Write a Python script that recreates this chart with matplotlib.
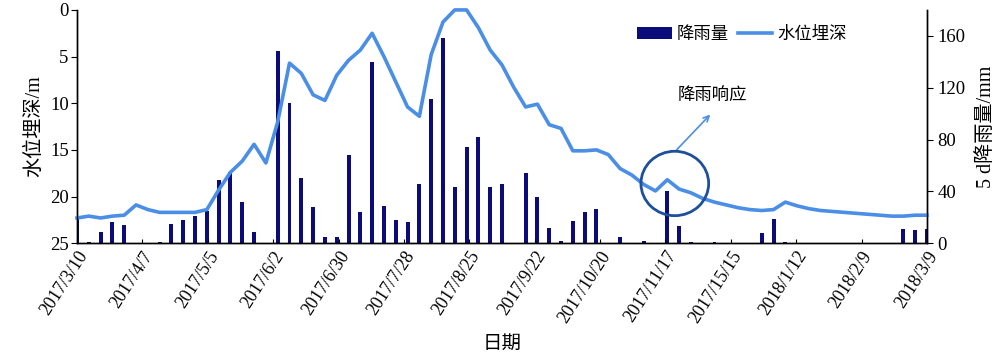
import numpy as np
import pandas as pd
import matplotlib
matplotlib.use('Agg')
import matplotlib.pyplot as plt
import matplotlib.dates as mdates
from matplotlib.patches import Ellipse

plt.rcParams['font.family'] = ['Liberation Serif', 'Noto Sans CJK SC']
plt.rcParams['axes.unicode_minus'] = False

# données : 73 périodes de 5 jours, du 2017/3/10 au 2018/3/9
start_date = '2017-03-10'
end_date = '2018-03-09'
n_periods = 73

rain_5d = [20, 1, 9, 16, 14, 0, 0, 1, 15, 18,
           21, 25, 49, 55, 32, 9, 0, 148, 108, 50,
           28, 4.6, 4.6, 68, 24, 140, 29, 18, 16, 46,
           111, 158, 43, 74, 82, 43, 46, 0.5, 54, 36,
           12, 2, 17, 24, 26, 0.5, 4.6, 0, 2, 0,
           40, 13, 1, 0, 1, 0, 0, 0, 7.5, 19,
           1, 0, 0, 0, 0, 0, 0, 0, 0, 0,
           11, 10, 11]

depth = [22.3, 22.1, 22.3, 22.1, 22.0, 20.9, 21.4, 21.7, 21.7, 21.7,
         21.7, 21.4, 19.3, 17.4, 16.2, 14.4, 16.4, 12.0, 5.7, 6.8,
         9.1, 9.7, 7.0, 5.4, 4.3, 2.5, 5.0, 7.7, 10.4, 11.4,
         4.8, 1.3, 0.0, 0.0, 1.9, 4.3, 5.9, 8.3, 10.4, 10.1,
         12.3, 12.7, 15.1, 15.1, 15.0, 15.5, 17.0, 17.7, 18.7, 19.4,
         18.2, 19.2, 19.6, 20.2, 20.6, 20.9, 21.2, 21.4, 21.5, 21.4,
         20.6, 21.0, 21.3, 21.5, 21.6, 21.7, 21.8, 21.9, 22.0, 22.1,
         22.1, 22.0, 22.0]

tick_dates = ['2017-03-10', '2017-04-07', '2017-05-05', '2017-06-02', '2017-06-30',
              '2017-07-28', '2017-08-25', '2017-09-22', '2017-10-20', '2017-11-17',
              '2017-12-15', '2018-01-12', '2018-02-09', '2018-03-09']
tick_labels = ['2017/3/10', '2017/4/7', '2017/5/5', '2017/6/2', '2017/6/30',
               '2017/7/28', '2017/8/25', '2017/9/22', '2017/10/20', '2017/11/17',
               '2017/15/15', '2018/1/12', '2018/2/9', '2018/3/9']

t0 = pd.Timestamp(start_date)
t1 = pd.Timestamp(end_date)
dates = pd.to_datetime(np.linspace(t0.value, t1.value, n_periods))
x = mdates.date2num(dates)

fig = plt.figure(figsize=(10, 3.55), dpi=100)
ax1 = fig.add_axes([0.077, 0.315, 0.85, 0.657])
ax2 = ax1.twinx()

# barres (axe de droite)
ax2.bar(x, rain_5d, width=1.7, color='#0b0b7a', label='降雨量', zorder=2)
ax2.set_ylim(0, 180)
ax2.set_yticks([0, 40, 80, 120, 160])
ax2.set_ylabel('5 d降雨量/mm', fontsize=14.5, labelpad=8)
ax2.tick_params(axis='y', labelsize=13.5, direction='out', length=4)

# niveau d'eau (axe de gauche, inversé)
ax1.set_zorder(ax2.get_zorder() + 1)
ax1.patch.set_visible(False)
ax1.plot(x, depth, color='#4a8ee6', lw=2.6, label='水位埋深', clip_on=False)
ax1.set_ylim(25, 0)
ax1.set_yticks([0, 5, 10, 15, 20, 25])
ax1.set_ylabel('水位埋深/m', fontsize=14.5, labelpad=4)
ax1.tick_params(axis='y', labelsize=13.5, direction='out', length=4, pad=2)

ax1.set_xlim(mdates.date2num(t0), mdates.date2num(t1))
ax1.set_xticks(mdates.date2num(pd.to_datetime(tick_dates)))
ax1.set_xticklabels(tick_labels, rotation=57, ha='right', rotation_mode='anchor', fontsize=13)
ax1.tick_params(axis='x', direction='in', length=3)
ax1.set_xlabel('日期', fontsize=14, labelpad=7)

for a in (ax1, ax2):
    a.spines['top'].set_visible(False)
    for s in a.spines.values():
        s.set_linewidth(1.0)

# annotation "降雨响应"
cx = mdates.date2num(pd.Timestamp('2017-11-21'))
circle = Ellipse((cx, 18.6), width=29, height=6.9, fill=False,
                 edgecolor='#1d4f9a', lw=2, zorder=5)
ax1.add_patch(circle)
ax1.annotate('', xy=(mdates.date2num(pd.Timestamp('2017-12-07')), 11.0),
             xytext=(cx, 15.2),
             arrowprops=dict(arrowstyle='->', color='#4a8ee6', lw=1.2))
ax1.text(mdates.date2num(pd.Timestamp('2017-12-07')), 10.2, '降雨响应',
         fontsize=12.5, ha='center', va='bottom')

h1, l1 = ax2.get_legend_handles_labels()
h2, l2 = ax1.get_legend_handles_labels()
fig.legend(h1 + h2, l1 + l2, loc='center', bbox_to_anchor=(0.742, 0.902),
           ncol=2, frameon=False, fontsize=12.5, handlelength=2.0,
           handletextpad=0.3, columnspacing=0.5)

plt.savefig('out.png', dpi=100)
plt.close()
